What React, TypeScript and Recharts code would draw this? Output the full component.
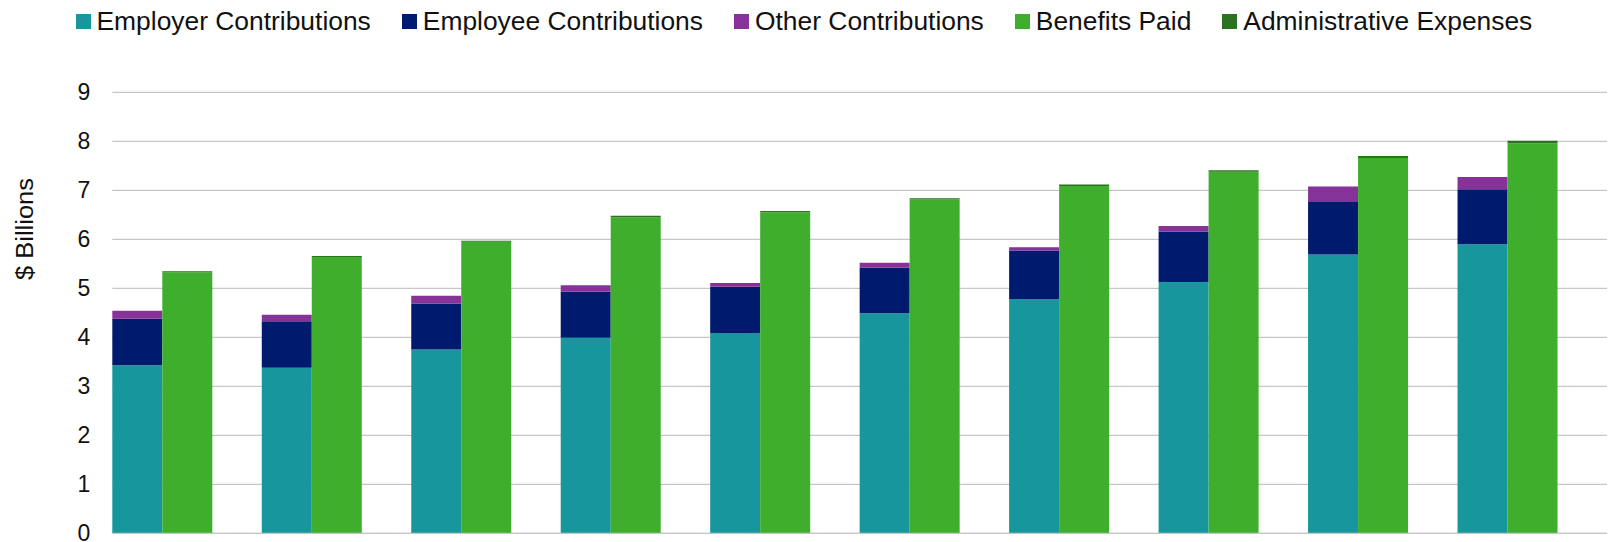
import React from 'react';
import { BarChart, Bar, XAxis, YAxis, CartesianGrid, Legend } from 'recharts';

const categories = ['1', '2', '3', '4', '5', '6', '7', '8', '9', '10'];
const employer = [3.43, 3.38, 3.75, 3.99, 4.09, 4.49, 4.78, 5.13, 5.69, 5.90];
const employee = [0.95, 0.95, 0.94, 0.94, 0.94, 0.93, 0.99, 1.03, 1.07, 1.12];
const other = [0.16, 0.13, 0.16, 0.13, 0.08, 0.10, 0.07, 0.11, 0.32, 0.25];
const benefits = [5.33, 5.64, 5.95, 6.45, 6.55, 6.81, 7.09, 7.38, 7.66, 7.96];
const admin = [0.02, 0.02, 0.02, 0.03, 0.03, 0.03, 0.03, 0.03, 0.04, 0.05];
const yTicks = [0, 1, 2, 3, 4, 5, 6, 7, 8, 9];

const series = [
  { key: 'employer', name: 'Employer Contributions', color: '#17979D', stack: 'in', values: employer },
  { key: 'employee', name: 'Employee Contributions', color: '#001B6E', stack: 'in', values: employee },
  { key: 'other', name: 'Other Contributions', color: '#863399', stack: 'in', values: other },
  { key: 'benefits', name: 'Benefits Paid', color: '#3EAE2C', stack: 'out', values: benefits },
  { key: 'admin', name: 'Administrative Expenses', color: '#2B7321', stack: 'out', values: admin },
];

const data = categories.map((c, i) => {
  const row: Record<string, string | number> = { category: c };
  series.forEach((s) => {
    row[s.key] = s.values[i];
  });
  return row;
});

const FONT = '"Liberation Sans", Arial, sans-serif';

const LegendContent = () => (
  <div
    style={{
      display: 'flex',
      alignItems: 'center',
      height: 42,
      paddingLeft: 75.5,
      fontFamily: FONT,
      fontSize: 26.4,
      color: '#111',
      whiteSpace: 'nowrap',
    }}
  >
    {series.map((s) => (
      <div key={s.key} style={{ display: 'flex', alignItems: 'center', marginRight: 31 }}>
        <span style={{ display: 'inline-block', width: 15, height: 15, background: s.color, marginRight: 6 }} />
        <span>{s.name}</span>
      </div>
    ))}
  </div>
);

const YLabel = () => (
  <text
    x={25}
    y={229}
    transform="rotate(-90, 25, 229)"
    textAnchor="middle"
    dominantBaseline="central"
    fontFamily={FONT}
    fontSize={23}
    fill="#111"
    textLength={102}
    lengthAdjust="spacingAndGlyphs"
  >
    $ Billions
  </text>
);

export default function App() {
  return (
    <div style={{ position: 'absolute', left: 0, top: 0, background: '#fff' }}>
      <BarChart
        width={1609}
        height={600}
        data={data}
        margin={{ top: 92.3, right: 2, bottom: 36.7, left: 0 }}
        barCategoryGap={25}
        barGap={0}
      >
        <CartesianGrid vertical={false} stroke="#C6C6C6" strokeWidth={1.3} />
        <XAxis
          dataKey="category"
          tick={false}
          tickLine={false}
          axisLine={{ stroke: '#C6C6C6', strokeWidth: 1.3 }}
          height={30}
          padding={{ left: -25, right: 25 }}
        />
        <YAxis
          width={112.3}
          domain={[0, 9]}
          ticks={yTicks}
          interval={0}
          tickSize={0}
          tickMargin={22}
          axisLine={false}
          tickLine={false}
          tick={{ fontFamily: FONT, fontSize: 23, fill: '#111' }}
          label={<YLabel />}
        />
        <Legend
          layout="horizontal"
          verticalAlign="middle"
          wrapperStyle={{ top: 0, left: 0 }}
          content={<LegendContent />}
        />
        {series.map((s) => (
          <Bar
            key={s.key}
            dataKey={s.key}
            name={s.name}
            stackId={s.stack}
            fill={s.color}
            isAnimationActive={false}
          />
        ))}
      </BarChart>
    </div>
  );
}
